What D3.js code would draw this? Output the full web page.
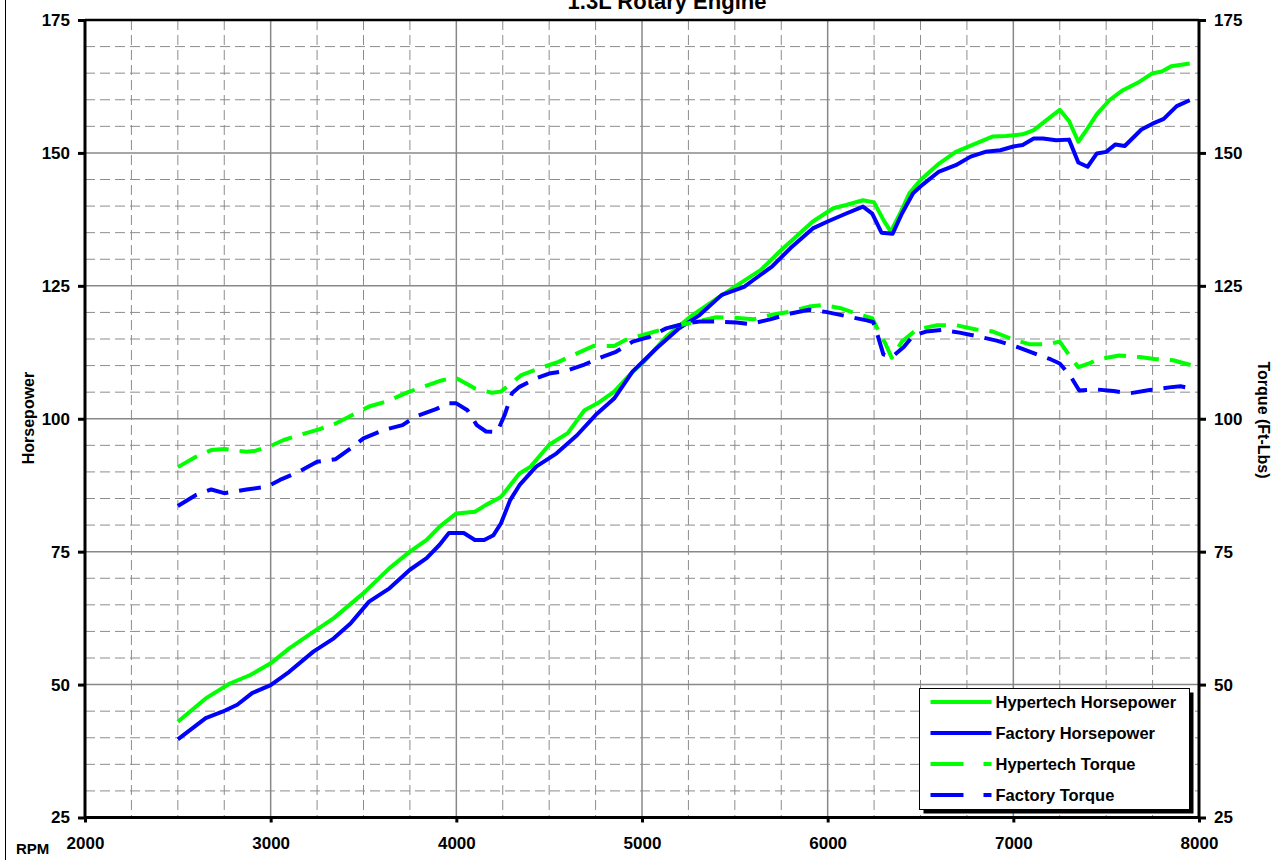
<!DOCTYPE html>
<html>
<head>
<meta charset="utf-8">
<script src="https://cdn.jsdelivr.net/npm/d3@7"></script>
<style>
  body { margin: 0; background: #fff; }
  svg { display: block; font-family: "Liberation Sans", Arial, sans-serif; font-weight: bold; }
</style>
</head>
<body>
<svg id="chart" width="1274" height="863"></svg>
<script>
// 数据：[RPM, 数值]
const hypertechHp = [
  [2500, 43.0], [2650, 47.4], [2780, 50.2], [2890, 51.8], [3000, 54.0], [3100, 56.8], [3230, 59.9],
  [3340, 62.5], [3500, 67.2], [3640, 71.9], [3750, 75.0], [3840, 77.2], [3910, 79.7], [4000, 82.2],
  [4100, 82.5], [4160, 83.8], [4240, 85.3], [4340, 89.7], [4400, 91.0], [4500, 95.1], [4600, 97.3],
  [4690, 101.6], [4760, 102.9], [4850, 105.1], [4940, 108.5], [5010, 110.7], [5130, 115.4], [5260, 119.2],
  [5420, 123.0], [5530, 125.5], [5640, 128.0], [5740, 131.4], [5850, 134.9], [5920, 137.1], [6030, 139.6],
  [6100, 140.2], [6190, 141.1], [6250, 140.7], [6300, 137.4], [6340, 135.2], [6390, 138.6], [6440, 142.4],
  [6500, 144.9], [6600, 148.0], [6690, 150.2], [6780, 151.5], [6890, 153.1], [6960, 153.2], [7050, 153.5],
  [7110, 154.3], [7180, 156.2], [7250, 158.1], [7300, 156.0], [7350, 152.1], [7400, 154.6], [7450, 157.3],
  [7520, 160.0], [7590, 161.8], [7680, 163.4], [7750, 165.0], [7800, 165.3], [7850, 166.3], [7950, 166.8]
];

const factoryHp = [
  [2500, 39.7], [2650, 43.7], [2740, 44.9], [2820, 46.2], [2900, 48.4], [3000, 49.9], [3100, 52.4],
  [3230, 56.2], [3340, 58.7], [3430, 61.5], [3530, 65.6], [3640, 68.1], [3750, 71.6], [3840, 73.8],
  [3910, 76.3], [3960, 78.5], [4040, 78.5], [4100, 77.2], [4150, 77.2], [4200, 78.1], [4240, 80.3],
  [4290, 84.7], [4340, 87.5], [4430, 91.0], [4540, 93.5], [4650, 96.9], [4750, 100.7], [4850, 103.8],
  [4950, 108.9], [5080, 113.3], [5200, 117.0], [5310, 119.5], [5430, 123.3], [5550, 124.8], [5600, 126.1],
  [5700, 128.6], [5800, 132.1], [5920, 135.8], [6000, 137.1], [6100, 138.6], [6190, 139.9], [6240, 138.6],
  [6290, 135.0], [6350, 134.8], [6400, 138.6], [6460, 142.4], [6510, 144.0], [6600, 146.5], [6690, 147.7],
  [6770, 149.3], [6850, 150.2], [6930, 150.5], [7000, 151.2], [7050, 151.5], [7110, 152.7], [7160, 152.7],
  [7230, 152.4], [7300, 152.5], [7350, 148.2], [7400, 147.4], [7450, 149.9], [7500, 150.2], [7550, 151.6],
  [7600, 151.3], [7690, 154.4], [7750, 155.5], [7810, 156.4], [7880, 158.8], [7950, 159.9]
];

const hypertechTq = [
  [2500, 90.9], [2600, 92.9], [2680, 94.1], [2750, 94.3], [2870, 93.8], [2920, 94.0], [3000, 94.9],
  [3070, 96.0], [3170, 97.1], [3260, 98.0], [3350, 99.1], [3440, 100.7], [3530, 102.3], [3620, 103.2],
  [3740, 105.0], [3820, 106.0], [3920, 107.2], [3990, 107.8], [4070, 106.3], [4100, 105.7], [4190, 104.9],
  [4240, 105.1], [4350, 108.2], [4450, 109.5], [4550, 110.7], [4650, 112.3], [4740, 113.7], [4850, 113.7],
  [4910, 114.8], [5010, 115.8], [5100, 116.7], [5200, 117.6], [5300, 118.3], [5400, 119.1], [5490, 119.0],
  [5600, 118.7], [5690, 119.5], [5790, 120.1], [5900, 121.1], [5980, 121.4], [6070, 120.8], [6150, 119.8],
  [6240, 118.9], [6280, 116.1], [6310, 114.2], [6345, 111.5], [6400, 114.5], [6480, 116.8], [6590, 117.6],
  [6690, 117.6], [6800, 116.8], [6890, 116.4], [7000, 114.9], [7090, 114.0], [7180, 114.0], [7250, 114.5],
  [7300, 112.0], [7350, 109.7], [7400, 110.3], [7460, 111.2], [7570, 111.9], [7680, 111.6], [7770, 111.2],
  [7860, 111.0], [7955, 110.1]
];

const factoryTq = [
  [2500, 83.6], [2600, 85.7], [2680, 86.7], [2750, 86.0], [2870, 86.7], [2980, 87.2], [3050, 88.5],
  [3150, 90.0], [3250, 91.9], [3350, 92.4], [3430, 94.4], [3500, 96.3], [3610, 97.9], [3710, 98.8],
  [3780, 100.4], [3890, 101.8], [3960, 102.9], [4000, 102.9], [4060, 101.6], [4110, 98.8], [4160, 97.6],
  [4220, 97.5], [4260, 100.7], [4300, 104.8], [4340, 106.0], [4430, 107.6], [4500, 108.5], [4590, 109.0],
  [4690, 110.2], [4790, 111.7], [4860, 112.6], [4950, 114.5], [5040, 115.4], [5130, 117.0], [5220, 117.8],
  [5310, 118.3], [5400, 118.3], [5510, 118.1], [5580, 117.8], [5690, 118.7], [5800, 119.8], [5900, 120.5],
  [5990, 120.1], [6100, 119.3], [6210, 118.5], [6245, 118.2], [6270, 115.6], [6300, 112.1], [6345, 111.6],
  [6410, 113.5], [6460, 115.6], [6530, 116.4], [6620, 116.7], [6710, 116.2], [6820, 115.4], [6910, 114.7],
  [7020, 113.5], [7120, 112.2], [7200, 111.2], [7250, 110.4], [7310, 107.9], [7355, 105.3], [7450, 105.5],
  [7540, 105.2], [7630, 104.8], [7735, 105.4], [7840, 105.9], [7900, 106.1], [7945, 105.8]
];

const xTicks = [2000, 3000, 4000, 5000, 6000, 7000, 8000];
const yTicks = [25, 50, 75, 100, 125, 150, 175];
const seriesNames = ["Hypertech Horsepower", "Factory Horsepower", "Hypertech Torque", "Factory Torque"];

// 系列样式
const GREEN = "#00ff00";
const BLUE = "#0000ff";
const series = [
  { name: seriesNames[0], data: hypertechHp, color: GREEN, dash: null },
  { name: seriesNames[1], data: factoryHp, color: BLUE, dash: null },
  { name: seriesNames[2], data: hypertechTq, color: GREEN, dash: "22,11" },
  { name: seriesNames[3], data: factoryTq, color: BLUE, dash: "22,11" }
];

const plot = { left: 85, top: 20, right: 1199, bottom: 817.5 };

const svg = d3.select("#chart");

const x = d3.scaleLinear().domain([2000, 8000]).range([plot.left, plot.right]);
const y = d3.scaleLinear().domain([25, 175]).range([plot.bottom, plot.top]);

// 外框左边线
svg.append("line")
  .attr("x1", 5.5).attr("x2", 5.5).attr("y1", 0).attr("y2", 860)
  .style("stroke", "#000").style("stroke-width", 1);

// 网格
const grid = svg.append("g").attr("class", "grid");
const minorX = d3.range(2000, 8001, 250).filter(v => v % 1000 !== 0);
const minorY = d3.range(25, 176, 5).filter(v => v % 25 !== 0);

grid.selectAll(".minorX").data(minorX).enter().append("line")
  .attr("x1", d => x(d)).attr("x2", d => x(d))
  .attr("y1", plot.top).attr("y2", plot.bottom)
  .style("stroke", "#8c8c8c").style("stroke-width", 1).style("stroke-dasharray", "10,5");

grid.selectAll(".minorY").data(minorY).enter().append("line")
  .attr("x1", plot.left).attr("x2", plot.right)
  .attr("y1", d => y(d)).attr("y2", d => y(d))
  .style("stroke", "#8c8c8c").style("stroke-width", 1).style("stroke-dasharray", "10,5");

grid.selectAll(".majorX").data(xTicks.slice(1, -1)).enter().append("line")
  .attr("x1", d => x(d)).attr("x2", d => x(d))
  .attr("y1", plot.top).attr("y2", plot.bottom)
  .style("stroke", "#888").style("stroke-width", 1.5);

grid.selectAll(".majorY").data(yTicks.slice(1, -1)).enter().append("line")
  .attr("x1", plot.left).attr("x2", plot.right)
  .attr("y1", d => y(d)).attr("y2", d => y(d))
  .style("stroke", "#888").style("stroke-width", 1.5);

// 数据线
const line = d3.line().x(d => x(d[0])).y(d => y(d[1]));
svg.append("g").selectAll("path").data(series).enter().append("path")
  .attr("d", d => line(d.data))
  .style("fill", "none")
  .style("stroke", d => d.color)
  .style("stroke-width", 4)
  .style("stroke-linejoin", "round")
  .style("stroke-dasharray", d => d.dash);

// 坐标轴
const axisStyle = g => {
  g.select(".domain").remove();
  g.selectAll(".tick line").style("stroke", "#000").style("stroke-width", 3);
  g.selectAll(".tick text").style("font-size", "17px").style("font-weight", "bold").style("fill", "#000");
};

svg.append("g")
  .attr("transform", `translate(0,${plot.bottom})`)
  .call(d3.axisBottom(x).tickValues(xTicks).tickSize(5).tickPadding(14).tickFormat(d3.format("d")))
  .call(axisStyle);

svg.append("g")
  .attr("transform", `translate(${plot.left},0)`)
  .call(d3.axisLeft(y).tickValues(yTicks).tickSize(7).tickPadding(8))
  .call(axisStyle);

svg.append("g")
  .attr("transform", `translate(${plot.right},0)`)
  .call(d3.axisRight(y).tickValues(yTicks).tickSize(7).tickPadding(8))
  .call(axisStyle);

// 绘图区边框
svg.append("line").attr("x1", plot.left).attr("x2", plot.right).attr("y1", plot.top).attr("y2", plot.top)
  .style("stroke", "#000").style("stroke-width", 2.5);
svg.append("line").attr("x1", plot.left).attr("x2", plot.right).attr("y1", plot.bottom).attr("y2", plot.bottom)
  .style("stroke", "#000").style("stroke-width", 3);
svg.append("line").attr("x1", plot.left).attr("x2", plot.left).attr("y1", plot.top - 1).attr("y2", plot.bottom + 1)
  .style("stroke", "#000").style("stroke-width", 3);
svg.append("line").attr("x1", plot.right).attr("x2", plot.right).attr("y1", plot.top - 1).attr("y2", plot.bottom + 1)
  .style("stroke", "#000").style("stroke-width", 3);

// 标题和轴标题
svg.append("text").attr("x", 667).attr("y", 9)
  .attr("text-anchor", "middle").style("font-size", "22px").text("1.3L Rotary Engine");

svg.append("text").attr("x", 16).attr("y", 854)
  .style("font-size", "15px").text("RPM");

svg.append("text")
  .attr("transform", "translate(34,418) rotate(-90)")
  .attr("text-anchor", "middle").style("font-size", "16px").text("Horsepower");

svg.append("text")
  .attr("transform", "translate(1258,420) rotate(90)")
  .attr("text-anchor", "middle").style("font-size", "16px").text("Torque (Ft-Lbs)");

// 图例
const legend = { x: 919.5, y: 688.5, w: 270, h: 121 };
svg.append("rect")
  .attr("x", legend.x + 4).attr("y", legend.y + 4).attr("width", legend.w).attr("height", legend.h)
  .style("fill", "#000");
svg.append("rect")
  .attr("x", legend.x).attr("y", legend.y).attr("width", legend.w).attr("height", legend.h)
  .style("fill", "#fff").style("stroke", "#000").style("stroke-width", 1);

const legendItems = svg.append("g").selectAll("g").data(series).enter().append("g")
  .attr("transform", (d, i) => `translate(${legend.x + 11},${legend.y + 13.5 + i * 31})`);

legendItems.append("line")
  .attr("x1", 0).attr("x2", 61).attr("y1", 0).attr("y2", 0)
  .style("stroke", d => d.color)
  .style("stroke-width", 4)
  .style("stroke-dasharray", d => d.dash ? "33,20" : null);

legendItems.append("text")
  .attr("x", 65).attr("y", 6)
  .style("font-size", "16.5px")
  .text(d => d.name);
</script>
</body>
</html>
